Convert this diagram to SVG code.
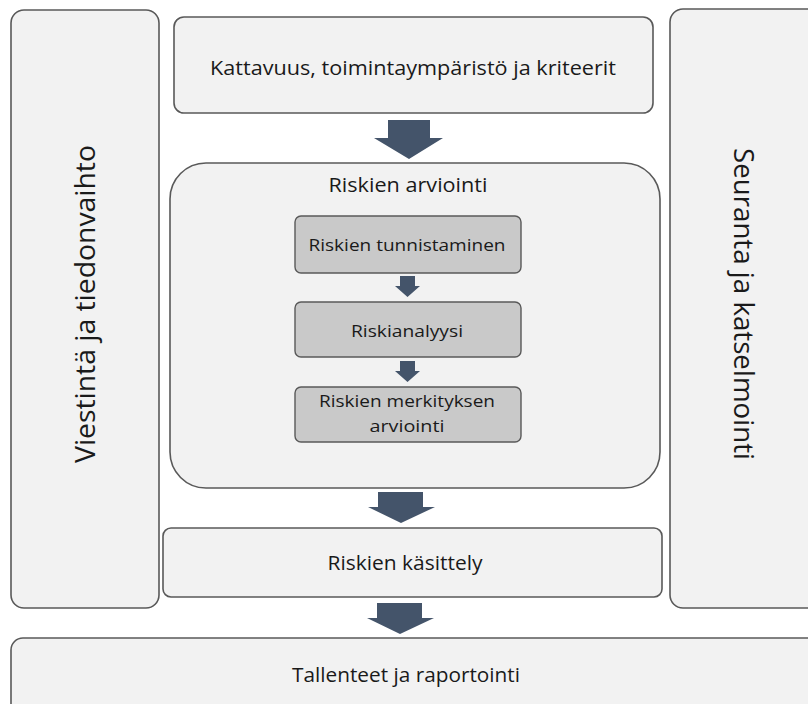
<svg xmlns="http://www.w3.org/2000/svg" width="808" height="704" viewBox="0 0 808 704">
<style>
.box{fill:#f2f2f2;stroke:#595959;stroke-width:1.6}
.inner{fill:#c9c9c9;stroke:#595959;stroke-width:1.4}
.arr{fill:#44546a}
text{font-family:"Open Sans","Noto Sans",sans-serif;fill:#1a1a1a;text-anchor:middle}
.t20{font-size:20.5px}
.t17{font-size:17px}
.t28{font-size:28px}
</style>
<rect width="808" height="704" fill="#ffffff"/>
<g id="viestinta">
<rect class="box" x="11" y="10" width="148" height="598" rx="13"/>
<text class="t28" transform="translate(95,304) rotate(-90)" textLength="318" lengthAdjust="spacingAndGlyphs">Viestintä ja tiedonvaihto</text>
</g>
<g id="seuranta">
<rect class="box" x="670" y="9" width="160" height="599" rx="13"/>
<text class="t28" transform="translate(734,304) rotate(90)" textLength="312" lengthAdjust="spacingAndGlyphs">Seuranta ja katselmointi</text>
</g>
<g id="kattavuus">
<rect class="box" x="174" y="17" width="479" height="96" rx="10"/>
<text class="t20" x="413" y="75" textLength="406" lengthAdjust="spacingAndGlyphs">Kattavuus, toimintaympäristö ja kriteerit</text>
</g>
<g id="arviointi">
<rect class="box" x="170" y="163" width="490" height="325" rx="36"/>
<text class="t20" x="408" y="192" textLength="159" lengthAdjust="spacingAndGlyphs">Riskien arviointi</text>
</g>
<g id="tunnistaminen">
<rect class="inner" x="295" y="216" width="226" height="57" rx="6"/>
<text class="t17" x="407" y="251" textLength="197" lengthAdjust="spacingAndGlyphs">Riskien tunnistaminen</text>
</g>
<g id="riskianalyysi">
<rect class="inner" x="295" y="302" width="226" height="55" rx="6"/>
<text class="t17" x="407" y="337" textLength="112" lengthAdjust="spacingAndGlyphs">Riskianalyysi</text>
</g>
<g id="merkitys">
<rect class="inner" x="295" y="387" width="226" height="55" rx="6"/>
<text class="t17" x="407" y="407" textLength="176" lengthAdjust="spacingAndGlyphs">Riskien merkityksen</text>
<text class="t17" x="407" y="432" textLength="75" lengthAdjust="spacingAndGlyphs">arviointi</text>
</g>
<g id="kasittely">
<rect class="box" x="163" y="528" width="499" height="69" rx="8"/>
<text class="t20" x="405" y="570" textLength="155" lengthAdjust="spacingAndGlyphs">Riskien käsittely</text>
</g>
<g id="tallenteet">
<rect class="box" x="11" y="638" width="820" height="90" rx="12"/>
<text class="t20" x="406" y="682" textLength="228" lengthAdjust="spacingAndGlyphs">Tallenteet ja raportointi</text>
</g>
<g id="connectors">
<polygon class="arr" points="388,120 430,120 430,138 443,138 409,159 374,138 388,138"/>
<polygon class="arr" points="400,276 415,276 415,286 420,286 407.5,297 395,286 400,286"/>
<polygon class="arr" points="400,361 415,361 415,371 420,371 407.5,382 395,371 400,371"/>
<polygon class="arr" points="378,492 423,492 423,507 435,507 401,523 368,507 378,507"/>
<polygon class="arr" points="377,603 422,603 422,618 434,618 400,634 367,618 377,618"/>
</g>
</svg>
